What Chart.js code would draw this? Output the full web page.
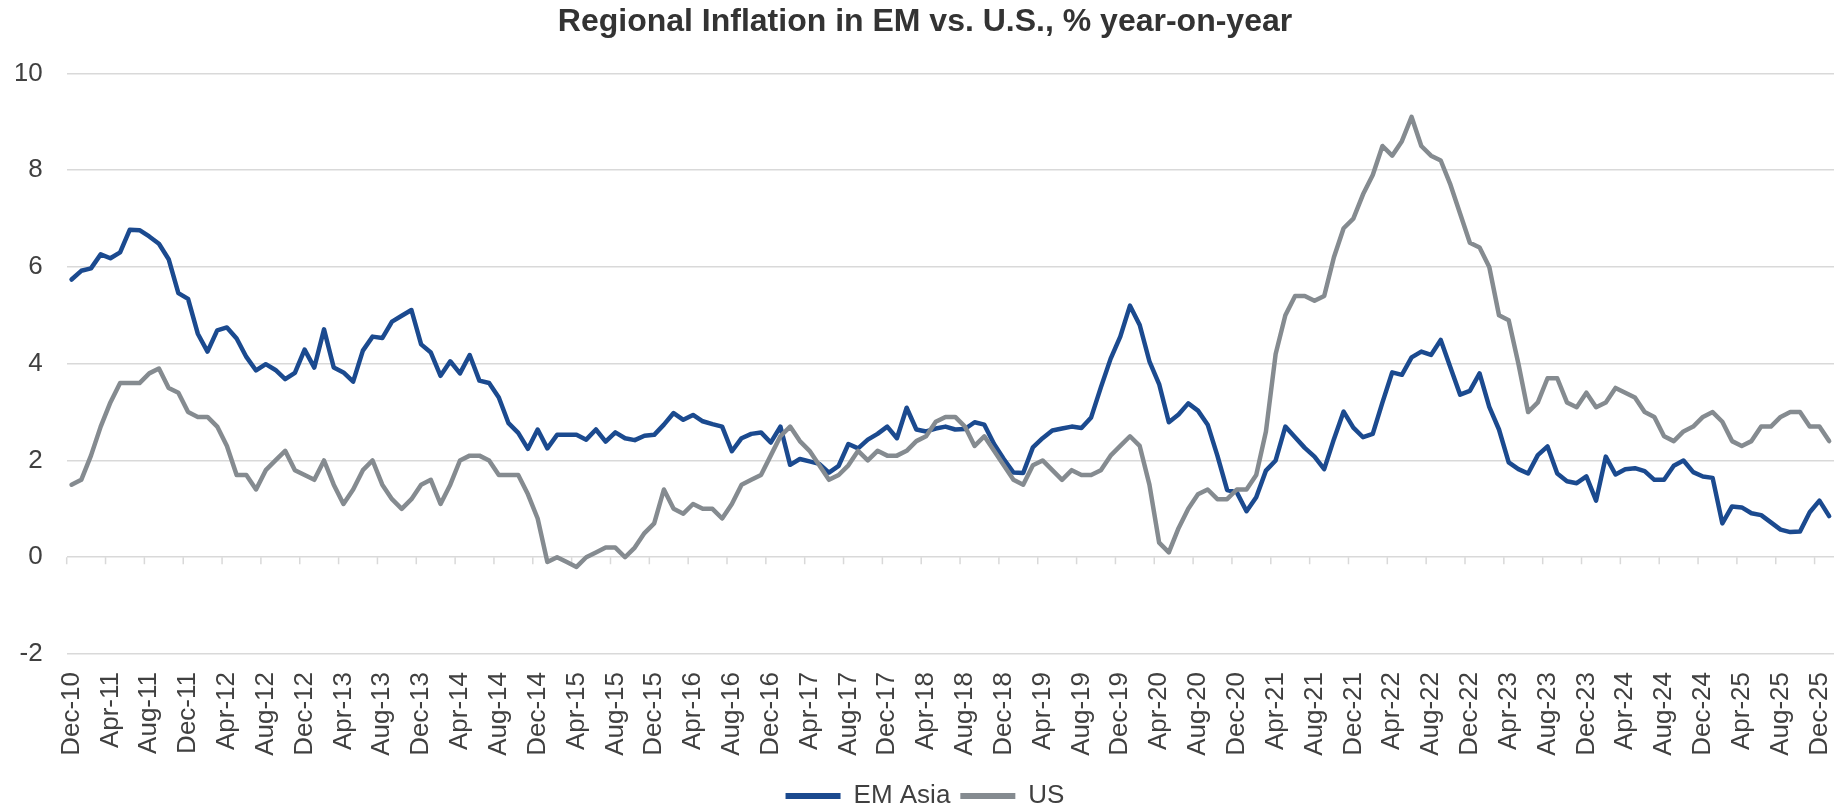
<!DOCTYPE html>
<html>
<head>
<meta charset="utf-8">
<script src="https://cdn.jsdelivr.net/npm/chart.js@4.4.1/dist/chart.umd.min.js"></script>
<style>
  html, body { margin: 0; padding: 0; background: #fff; }
</style>
</head>
<body>
<canvas id="myChart" width="1834" height="811"></canvas>
<script>
// monthly, Dec-10 .. Jan-26
var monthNames = ['Jan', 'Feb', 'Mar', 'Apr', 'May', 'Jun', 'Jul', 'Aug', 'Sep', 'Oct', 'Nov', 'Dec'];
var startMonth = 11, startYear = 10, pointCount = 182;
var categories = [];
for (var i = 0; i < pointCount; i++) {
    var m = startMonth + i;
    categories.push(monthNames[m % 12] + '-' + (startYear + Math.floor(m / 12)));
}

var emAsia = [
    5.74, 5.92, 5.97, 6.26, 6.18, 6.30, 6.77, 6.76, 6.63, 6.48, 6.16, 5.46,
    5.34, 4.62, 4.25, 4.69, 4.75, 4.52, 4.14, 3.86, 3.99, 3.87, 3.68, 3.81,
    4.29, 3.92, 4.71, 3.92, 3.82, 3.63, 4.27, 4.56, 4.53, 4.87, 4.99, 5.11,
    4.40, 4.23, 3.75, 4.05, 3.80, 4.18, 3.65, 3.60, 3.30, 2.77, 2.57, 2.24,
    2.64, 2.25, 2.53, 2.53, 2.53, 2.43, 2.64, 2.39, 2.58, 2.46, 2.42, 2.51,
    2.53, 2.74, 2.98, 2.84, 2.94, 2.81, 2.75, 2.70, 2.19, 2.46, 2.55, 2.58,
    2.37, 2.70, 1.91, 2.03, 1.98, 1.93, 1.75, 1.89, 2.34, 2.25, 2.43, 2.55,
    2.70, 2.46, 3.09, 2.64, 2.60, 2.66, 2.70, 2.64, 2.65, 2.79, 2.74, 2.34,
    2.03, 1.75, 1.74, 2.27, 2.46, 2.62, 2.66, 2.70, 2.67, 2.89, 3.51, 4.10,
    4.56, 5.20, 4.80, 4.05, 3.58, 2.79, 2.95, 3.18, 3.03, 2.74, 2.10, 1.39,
    1.34, 0.95, 1.24, 1.79, 2.00, 2.70, 2.48, 2.26, 2.08, 1.82, 2.44, 3.01,
    2.68, 2.48, 2.55, 3.20, 3.82, 3.77, 4.13, 4.25, 4.18, 4.49, 3.92, 3.36,
    3.44, 3.80, 3.11, 2.64, 1.96, 1.82, 1.73, 2.11, 2.29, 1.73, 1.57, 1.53,
    1.67, 1.17, 2.08, 1.71, 1.82, 1.84, 1.78, 1.60, 1.60, 1.89, 2.00, 1.76,
    1.67, 1.64, 0.70, 1.05, 1.03, 0.91, 0.87, 0.72, 0.57, 0.52, 0.53, 0.93,
    1.17, 0.85
];

var us = [
    1.5, 1.6, 2.1, 2.7, 3.2, 3.6, 3.6, 3.6, 3.8, 3.9, 3.5, 3.4,
    3.0, 2.9, 2.9, 2.7, 2.3, 1.7, 1.7, 1.4, 1.8, 2.0, 2.2, 1.8,
    1.7, 1.6, 2.0, 1.5, 1.1, 1.4, 1.8, 2.0, 1.5, 1.2, 1.0, 1.2,
    1.5, 1.6, 1.1, 1.5, 2.0, 2.1, 2.1, 2.0, 1.7, 1.7, 1.7, 1.3,
    0.8, -0.1, 0.0, -0.1, -0.2, 0.0, 0.1, 0.2, 0.2, 0.0, 0.2, 0.5,
    0.7, 1.4, 1.0, 0.9, 1.1, 1.0, 1.0, 0.8, 1.1, 1.5, 1.6, 1.7,
    2.1, 2.5, 2.7, 2.4, 2.2, 1.9, 1.6, 1.7, 1.9, 2.2, 2.0, 2.2,
    2.1, 2.1, 2.2, 2.4, 2.5, 2.8, 2.9, 2.9, 2.7, 2.3, 2.5, 2.2,
    1.9, 1.6, 1.5, 1.9, 2.0, 1.8, 1.6, 1.8, 1.7, 1.7, 1.8, 2.1,
    2.3, 2.5, 2.3, 1.5, 0.3, 0.1, 0.6, 1.0, 1.3, 1.4, 1.2, 1.2,
    1.4, 1.4, 1.7, 2.6, 4.2, 5.0, 5.4, 5.4, 5.3, 5.4, 6.2, 6.8,
    7.0, 7.5, 7.9, 8.5, 8.3, 8.6, 9.1, 8.5, 8.3, 8.2, 7.7, 7.1,
    6.5, 6.4, 6.0, 5.0, 4.9, 4.0, 3.0, 3.2, 3.7, 3.7, 3.2, 3.1,
    3.4, 3.1, 3.2, 3.5, 3.4, 3.3, 3.0, 2.9, 2.5, 2.4, 2.6, 2.7,
    2.9, 3.0, 2.8, 2.4, 2.3, 2.4, 2.7, 2.7, 2.9, 3.0, 3.0, 2.7,
    2.7, 2.4
];

var blue = '#1b4a8f';
var grey = '#858b90';
var textColor = '#404040';

Chart.defaults.font.family = '"Liberation Sans", Arial, sans-serif';

// small tick marks on the zero line, every 4 months between categories
var zeroTicks = {
    id: 'zeroTicks',
    beforeDatasetsDraw: function(chart) {
        var x = chart.scales.x, y = chart.scales.y, ctx = chart.ctx;
        var half = (x.getPixelForValue(1) - x.getPixelForValue(0)) / 2;
        var y0 = y.getPixelForValue(0);
        ctx.save();
        ctx.strokeStyle = '#d9d9d9';
        ctx.lineWidth = 1.5;
        ctx.beginPath();
        for (var k = 0; k < categories.length; k += 4) {
            var px = x.getPixelForValue(k) - half;
            ctx.moveTo(px, y0);
            ctx.lineTo(px, y0 + 7);
        }
        ctx.stroke();
        ctx.restore();
    }
};

var ctx = document.getElementById('myChart').getContext('2d');
var myChart = new Chart(ctx, {
    type: 'line',
    data: {
        labels: categories,
        datasets: [{
            label: 'EM Asia',
            data: emAsia,
            borderColor: blue,
            backgroundColor: blue,
            borderWidth: 4.5,
            order: 1
        },
        {
            label: 'US',
            data: us,
            borderColor: grey,
            backgroundColor: grey,
            borderWidth: 4.5,
            order: 0
        }]
    },
    options: {
        responsive: false,
        animation: false,
        events: [],
        elements: {
            point: { radius: 0 },
            line: { tension: 0, borderJoinStyle: 'round', borderCapStyle: 'round' }
        },
        layout: {
            padding: { left: 16, right: 0, top: 0, bottom: -8 }
        },
        plugins: {
            title: {
                display: true,
                text: 'Regional Inflation in EM vs. U.S., % year-on-year',
                color: '#333333',
                font: { size: 32, weight: 'bold' },
                padding: { top: 3, bottom: 32 }
            },
            legend: {
                position: 'bottom',
                labels: {
                    color: textColor,
                    font: { size: 26 },
                    boxWidth: 55,
                    boxHeight: 6,
                    padding: 10,
                    sort: function(a, b) { return a.datasetIndex - b.datasetIndex; },
                    generateLabels: function(chart) {
                        var items = Chart.defaults.plugins.legend.labels.generateLabels(chart);
                        items.forEach(function(it) { it.lineWidth = 0; });
                        return items;
                    }
                }
            },
            tooltip: { enabled: false }
        },
        scales: {
            x: {
                offset: true,
                grid: { display: false, drawTicks: false },
                border: { display: false },
                ticks: {
                    autoSkip: false,
                    minRotation: 90,
                    maxRotation: 90,
                    padding: 18,
                    color: textColor,
                    font: { size: 26 },
                    callback: function(value, index) {
                        return index % 4 === 0 ? this.getLabelForValue(value) : '';
                    }
                },
                afterFit: function(scale) {
                    scale.paddingLeft = 0;
                    scale.paddingRight = 0;
                    scale.height = 119;
                }
            },
            y: {
                min: -2,
                max: 10,
                ticks: { stepSize: 2, padding: 24, color: textColor, font: { size: 26 } },
                grid: { color: '#d9d9d9', lineWidth: 1.5, drawTicks: false },
                border: { display: false },
                afterFit: function(scale) {
                    scale.width = 50.7;
                }
            }
        }
    },
    plugins: [zeroTicks]
});
</script>
</body>
</html>
